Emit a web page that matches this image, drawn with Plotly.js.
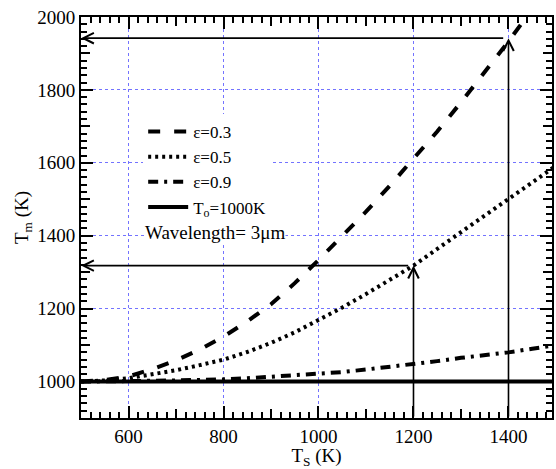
<!DOCTYPE html>
<html>
<head>
<meta charset="utf-8">
<script src="https://cdn.plot.ly/plotly-3.0.1.min.js"></script>
<style>html,body{margin:0;padding:0;background:#fff;}#chart{width:556px;height:469px;}</style>
</head>
<body>
<div id="chart"></div>
<script>
// Source temperature T_s (K)
var Ts = [500, 550, 600, 650, 700, 750, 800, 850, 900, 950, 1000, 1050, 1100, 1150, 1200, 1250, 1300, 1350, 1400, 1450, 1500];
// Measured temperature T_m (K) for each emissivity
var Tm_eps03 = [1000, 1004, 1014, 1034, 1058, 1088, 1123, 1165, 1212, 1270, 1333, 1398, 1466, 1537, 1610, 1686, 1766, 1849, 1933, 2022, null];
var Tm_eps05 = [1000, 1003, 1009, 1019, 1031, 1045, 1060, 1081, 1106, 1135, 1168, 1203, 1240, 1278, 1318, 1364, 1410, 1455, 1499, 1545, 1592];
var Tm_eps09 = [1000, 1000, 1001, 1002, 1003, 1004, 1006, 1009, 1013, 1017, 1021, 1026, 1033, 1040, 1048, 1056, 1065, 1072, 1080, 1090, 1100];
var To = 1000;
// Read-off points marked with arrows
var readTs = [1200, 1400];
var readTm = [1318, 1942];

var labels = ['\u03b5=0.3', '\u03b5=0.5', '\u03b5=0.9', 'T<sub>o</sub>=1000K'];
var noteText = 'Wavelength= 3\u03bcm';

var FONT = 'Times New Roman';
var xr = [500, 1491.6], yr = [900, 2000];

var traces = [
  {x: Ts, y: Tm_eps03, mode: 'lines', name: labels[0], line: {color: '#000', width: 4, dash: '12px,14px'}},
  {x: Ts, y: Tm_eps05, mode: 'lines', name: labels[1], line: {color: '#000', width: 4, dash: '3px,4px'}},
  {x: Ts, y: Tm_eps09, mode: 'lines', name: labels[2], line: {color: '#000', width: 4, dash: '10px,6px,3px,6px'}},
  {x: [Ts[0], Ts[Ts.length - 1]], y: [To, To], mode: 'lines', name: labels[3], line: {color: '#000', width: 4}},
  {x: [], y: [], xaxis: 'x2', yaxis: 'y2', showlegend: false, hoverinfo: 'skip'}
];

var annotations = [];
for (var i = 0; i < readTs.length; i++) {
  annotations.push({x: readTs[i], y: readTm[i], ax: readTs[i], ay: yr[0], xref: 'x', yref: 'y', axref: 'x', ayref: 'y',
    text: '', showarrow: true, arrowhead: 5, arrowsize: 1.3, arrowwidth: 1.6, arrowcolor: '#000'});
  annotations.push({x: xr[0], y: readTm[i], ax: readTs[i] - 8, ay: readTm[i], xref: 'x', yref: 'y', axref: 'x', ayref: 'y',
    text: '', showarrow: true, arrowhead: 5, arrowsize: 1.3, arrowwidth: 1.6, arrowcolor: '#000'});
}
annotations.push({xref: 'paper', yref: 'paper', x: 0.133, y: 0.463, xanchor: 'left', yanchor: 'middle',
  text: noteText, showarrow: false, font: {family: FONT, size: 19, color: '#000'}, bgcolor: '#fff', borderpad: 0});

var axisCommon = {
  showline: true, linecolor: '#000', linewidth: 2, mirror: 'ticks',
  ticks: 'inside', ticklen: 12, tickwidth: 2, tickcolor: '#000',
  showgrid: true, gridcolor: '#7373ff', gridwidth: 1, griddash: 'dot',
  zeroline: false, dtick: 200,
  tickfont: {family: FONT, size: 19, color: '#000'},
  minor: {dtick: 20, ticks: 'inside', ticklen: 6, tickwidth: 2, tickcolor: '#000', showgrid: false}
};

var layout = {
  width: 556, height: 469,
  margin: {l: 81, r: 4, t: 17, b: 51},
  paper_bgcolor: '#fff', plot_bgcolor: '#fff',
  showlegend: true,
  font: {family: FONT, color: '#000'},
  xaxis: Object.assign({}, axisCommon, {range: xr, tick0: 0,
    title: {text: 'T<sub>S</sub> (K)', font: {family: FONT, size: 19, color: '#000'}, standoff: 2}}),
  yaxis: Object.assign({}, axisCommon, {range: yr, tick0: 0,
    title: {text: 'T<sub>m</sub> (K)', font: {family: FONT, size: 19, color: '#000'}, standoff: 4}}),
  xaxis2: {overlaying: 'x', anchor: 'y', range: xr, showgrid: false, showline: false, zeroline: false,
    ticks: 'inside', ticklen: 9, tickwidth: 2, tickcolor: '#000', dtick: 100, tick0: 0, showticklabels: false, mirror: 'ticks'},
  yaxis2: {overlaying: 'y', anchor: 'x', range: yr, showgrid: false, showline: false, zeroline: false,
    ticks: 'inside', ticklen: 9, tickwidth: 2, tickcolor: '#000', dtick: 100, tick0: 0, showticklabels: false, mirror: 'ticks'},
  legend: {x: 0.132, y: 0.758, xanchor: 'left', yanchor: 'top', bgcolor: '#fff', borderwidth: 0,
    font: {family: FONT, size: 17, color: '#000'}, itemwidth: 40, tracegroupgap: 0},
  shapes: [{type: 'rect', xref: 'paper', yref: 'paper', x0: 0.13, x1: 0.465, y0: 0.43, y1: 0.736,
    fillcolor: '#fff', line: {width: 0}, layer: 'between'}],
  annotations: annotations
};

Plotly.newPlot('chart', traces, layout, {displayModeBar: false, staticPlot: true});
</script>
</body>
</html>
